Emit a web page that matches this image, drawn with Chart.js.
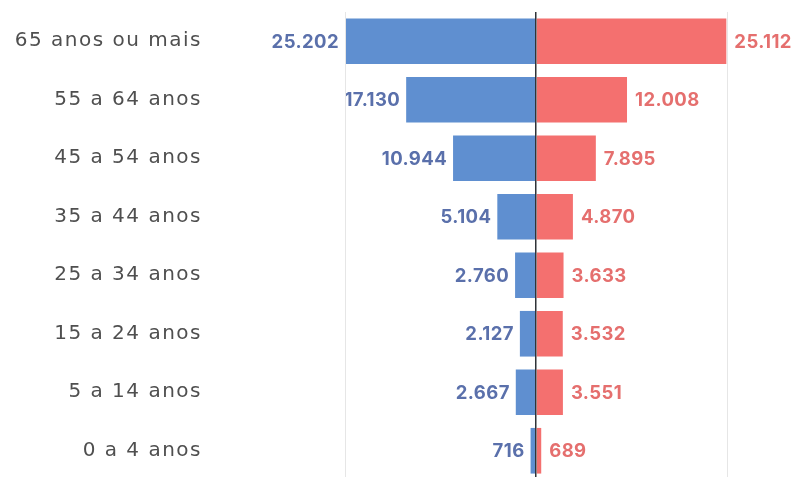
<!DOCTYPE html>
<html>
<head>
<meta charset="utf-8">
<script src="https://cdn.jsdelivr.net/npm/chart.js@4"></script>
<style>
    html, body { margin: 0; padding: 0; background: #ffffff; overflow: hidden; }
    #wrap { position: relative; width: 795px; height: 492px; }
</style>
</head>
<body>
<div id="wrap"><canvas id="pyramidChart"></canvas></div>
<script>
const ageGroups = [
    '65 anos ou mais',
    '55 a 64 anos',
    '45 a 54 anos',
    '35 a 44 anos',
    '25 a 34 anos',
    '15 a 24 anos',
    '5 a 14 anos',
    '0 a 4 anos',
];

const leftValues = [25202, 17130, 10944, 5104, 2760, 2127, 2667, 716];
const rightValues = [25112, 12008, 7895, 4870, 3633, 3532, 3551, 689];

const axisLimit = 25200;

const formatNumber = (value) =>
    new Intl.NumberFormat('pt-BR').format(Math.abs(value));

// wider letter spacing for the category labels
const labelSpacing = {
    id: 'labelSpacing',
    beforeDraw(chart) {
        chart.ctx.letterSpacing = '1.5px';
    },
    beforeDatasetsDraw(chart) {
        chart.ctx.letterSpacing = '0px';
    },
};

const barLabels = {
    id: 'barLabels',
    afterDatasetsDraw(chart) {
        const { ctx } = chart;
        ctx.save();
        ctx.letterSpacing = '0.4px';
        ctx.font = 'bold 18.5px Inter, sans-serif';
        ctx.textBaseline = 'middle';

        chart.data.datasets.forEach((dataset, i) => {
            const meta = chart.getDatasetMeta(i);
            meta.data.forEach((bar, j) => {
                const value = dataset.data[j];
                ctx.fillStyle = dataset.labelColor;
                if (value < 0) {
                    ctx.textAlign = 'right';
                    ctx.fillText(formatNumber(value), bar.x - 6, bar.y + 1);
                } else {
                    ctx.textAlign = 'left';
                    ctx.fillText(formatNumber(value), bar.x + 8, bar.y + 1);
                }
            });
        });

        ctx.restore();
    },
};

new Chart(document.getElementById('pyramidChart'), {
    type: 'bar',

    data: {
        labels: ageGroups,
        datasets: [
            {
                label: 'Esquerda',
                data: leftValues.map((v) => -v),
                backgroundColor: '#5f8fd0',
                labelColor: '#5a70ab',
                categoryPercentage: 1,
                barPercentage: 0.78,
            },
            {
                label: 'Direita',
                data: rightValues,
                backgroundColor: '#f4706f',
                labelColor: '#e56f6e',
                categoryPercentage: 1,
                barPercentage: 0.78,
            },
        ],
    },

    options: {
        indexAxis: 'y',
        responsive: true,
        maintainAspectRatio: false,
        animation: false,

        layout: {
            padding: { top: 11, right: 68, bottom: 0, left: 0 },
        },

        plugins: {
            legend: { display: false },
            tooltip: { enabled: false },
        },

        scales: {
            x: {
                stacked: true,
                min: -axisLimit,
                max: axisLimit,
                afterBuildTicks(scale) {
                    scale.ticks = [{ value: -axisLimit }, { value: 0 }, { value: axisLimit }];
                },
                ticks: { display: false },
                grid: {
                    drawTicks: false,
                    color: (ctx) => (ctx.tick && ctx.tick.value === 0 ? '#2f3338' : '#e6e6e6'),
                    lineWidth: (ctx) => (ctx.tick && ctx.tick.value === 0 ? 1.5 : 1),
                    z: 1,
                },
                border: { display: false },
            },

            y: {
                stacked: true,
                afterFit(scale) {
                    scale.width = 345;
                },
                ticks: {
                    color: '#4f4f4f',
                    padding: 0,
                    font: { family: '"DejaVu Sans", sans-serif', size: 20 },
                },
                // long invisible tick marks push the labels away from the bars
                grid: {
                    color: 'transparent',
                    drawOnChartArea: false,
                    drawTicks: true,
                    tickLength: 143,
                },
                border: { display: false },
            },
        },
    },

    plugins: [labelSpacing, barLabels],
});
</script>
</body>
</html>
